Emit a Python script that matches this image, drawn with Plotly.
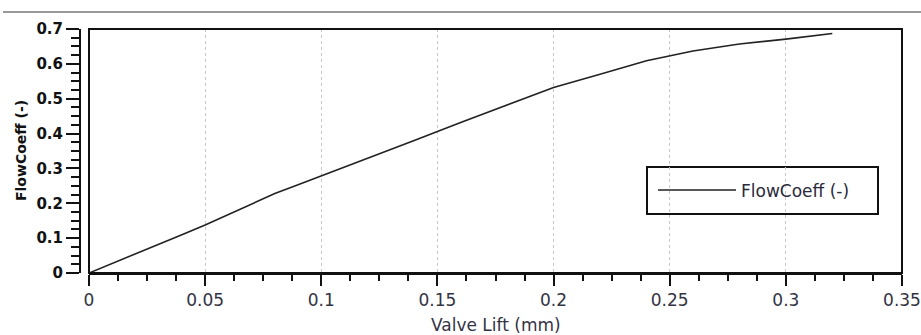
import plotly.graph_objects as go

# Data
valve_lift = [0, 0.01, 0.02, 0.03, 0.04, 0.05, 0.06, 0.07, 0.08, 0.09, 0.10,
              0.12, 0.14, 0.16, 0.18, 0.20, 0.22, 0.24, 0.26, 0.28, 0.30, 0.32]
flow_coeff = [0, 0.027, 0.054, 0.082, 0.110, 0.138, 0.168, 0.198, 0.228, 0.253, 0.278,
              0.330, 0.380, 0.432, 0.482, 0.532, 0.570, 0.609, 0.637, 0.657, 0.671, 0.687]

x_ticks = [0, 0.05, 0.1, 0.15, 0.2, 0.25, 0.3, 0.35]
x_labels = ["0", "0.05", "0.1", "0.15", "0.2", "0.25", "0.3", "0.35"]
y_ticks = [0, 0.1, 0.2, 0.3, 0.4, 0.5, 0.6, 0.7]
y_labels = ["0", "0.1", "0.2", "0.3", "0.4", "0.5", "0.6", "0.7"]

FONT = "DejaVu Sans, Verdana, sans-serif"

fig = go.Figure()
fig.add_trace(go.Scatter(x=valve_lift, y=flow_coeff, mode="lines",
                         name="FlowCoeff (-)",
                         line=dict(color="#222222", width=1.6)))

W, H = 921, 335
ML, MR, MT, MB = 80, 19, 29, 62
PW = W - ML - MR
PH = H - MT - MB

# legend frame (pixel box in the reference)
LX0, LX1, LY0, LY1 = 647, 878, 167, 214

fig.update_layout(
    width=W, height=H,
    margin=dict(l=ML, r=MR, t=MT, b=MB, autoexpand=False),
    paper_bgcolor="white", plot_bgcolor="white",
    font=dict(family=FONT, color="#222222", size=16),
    showlegend=True,
    legend=dict(x=(LX0 + 6 - ML) / PW, y=(273 - (LY0 + LY1) / 2) / PH,
                xanchor="left", yanchor="middle",
                borderwidth=0, bgcolor="rgba(0,0,0,0)",
                font=dict(family=FONT, size=17, color="#2a2a3a"),
                itemwidth=78),
    xaxis=dict(domain=[9 / PW, 1], range=[0, 0.35], tickvals=x_ticks, ticktext=x_labels,
               automargin=False,
               showline=True, linecolor="#111111", linewidth=2,
               ticks="outside", ticklen=11, tickwidth=2, tickcolor="#111111",
               minor=dict(dtick=0.0125, tick0=0, ticks="outside", ticklen=6,
                          tickwidth=2, tickcolor="#111111", showgrid=False),
               showgrid=True, gridcolor="#c8c8c8", griddash="dot", gridwidth=1,
               zeroline=False,
               tickfont=dict(family=FONT, size=17, color="#333344")),
    yaxis=dict(anchor="free", position=0, range=[0, 0.7], tickvals=y_ticks, ticktext=y_labels,
               automargin=False,
               showline=True, linecolor="#111111", linewidth=2,
               ticks="outside", ticklen=13, tickwidth=2, tickcolor="#111111",
               minor=dict(dtick=0.025, tick0=0, ticks="outside", ticklen=8,
                          tickwidth=2, tickcolor="#111111", showgrid=False),
               showgrid=False, zeroline=False,
               tickfont=dict(family=FONT, size=15, color="#111111", weight="bold")),
    annotations=[
        dict(text="Valve Lift (mm)", xref="x domain", yref="paper",
             x=0.5, y=(273 - 325) / PH, xanchor="center", yanchor="middle",
             showarrow=False, font=dict(family=FONT, size=17, color="#333344")),
        dict(text="FlowCoeff (-)", xref="paper", yref="paper", textangle=-90,
             x=(21 - ML) / PW, y=0.5, xanchor="center", yanchor="middle",
             showarrow=False, font=dict(family=FONT, size=14, color="#111111", weight="bold")),
    ],
    shapes=[
        dict(type="rect", xref="x domain", yref="y domain", x0=0, x1=1, y0=0, y1=1,
             line=dict(color="#111111", width=2), layer="above"),
        dict(type="rect", xref="paper", yref="paper",
             x0=(LX0 - ML) / PW, x1=(LX1 - ML) / PW,
             y0=(273 - LY1) / PH, y1=(273 - LY0) / PH,
             line=dict(color="#111111", width=2), fillcolor="white", layer="below"),
        dict(type="line", xref="paper", yref="paper",
             x0=(3 - ML) / PW, x1=(W - ML) / PW,
             y0=(273 - 12) / PH, y1=(273 - 12) / PH,
             line=dict(color="#999999", width=2)),
    ],
)

fig.write_html("out.html", config={"displayModeBar": False},
               post_script="document.body.style.margin='0px';document.body.style.overflow='hidden';")
